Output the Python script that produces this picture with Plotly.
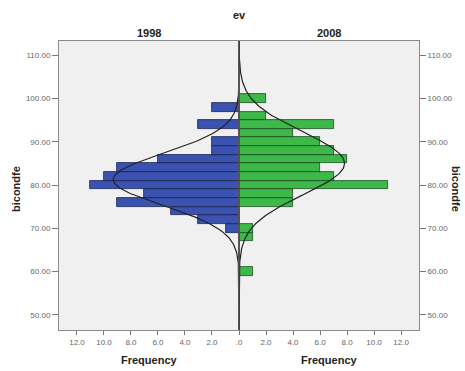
import numpy as np
import plotly.graph_objects as go
from plotly.subplots import make_subplots

# ---- data ----
bin_centers = [60, 62, 64, 66, 68, 70, 72, 74, 76, 78, 80, 82, 84, 86, 88, 90, 92, 94, 96, 98, 100]
freq_1998 =   [0,  0,  0,  0,  0,  1,  3,  5,  9,  7, 11, 10,  9,  6,  2,  2,  0,  3,  0,  2,  0]
freq_2008 =   [1,  0,  0,  0,  1,  1,  0,  0,  4,  4, 11,  7,  6,  8,  7,  6,  4,  7,  2,  0,  2]
bin_width = 2
mean_1998, sd_1998, n_1998 = 81.3, 6.0, 70
mean_2008, sd_2008, n_2008 = 85.0, 7.25, 71
y_ticks = [50, 60, 70, 80, 90, 100, 110]
y_ticklabels = ["50.00", "60.00", "70.00", "80.00", "90.00", "100.00", "110.00"]
x_ticks_left = [0, 2, 4, 6, 8, 10, 12]
x_ticklabels_left = [".0", "2.0", "4.0", "6.0", "8.0", "10.0", "12.0"]
x_ticks_right = [2, 4, 6, 8, 10, 12]
x_ticklabels_right = ["2.0", "4.0", "6.0", "8.0", "10.0", "12.0"]

W, H = 465, 371
ML, MR, MT, MB = 59, 46, 41, 41
plotH = H - MT - MB
plotW = W - ML - MR
YR = [46.5, 113.3]
XR = 13.33

FONT = "Liberation Sans, Arial, sans-serif"
BLUE = "#3a53b0"
GREEN = "#3db94a"

fig = make_subplots(rows=1, cols=2, shared_yaxes=False, horizontal_spacing=0)

fig.add_trace(go.Bar(y=bin_centers, x=freq_1998, orientation="h", width=bin_width,
                     marker=dict(color=BLUE, line=dict(color="#1c2450", width=0.8)),
                     showlegend=False), row=1, col=1)
fig.add_trace(go.Bar(y=bin_centers, x=freq_2008, orientation="h", width=bin_width,
                     marker=dict(color=GREEN, line=dict(color="#1d4a22", width=0.8)),
                     showlegend=False), row=1, col=2)

yy = np.linspace(YR[0], YR[1], 300)
def curve(m, s, n):
    return n * bin_width / (s * np.sqrt(2 * np.pi)) * np.exp(-0.5 * ((yy - m) / s) ** 2)

fig.add_trace(go.Scatter(x=curve(mean_1998, sd_1998, n_1998), y=yy, mode="lines",
                         line=dict(color="#222222", width=1.2), showlegend=False), row=1, col=1)
fig.add_trace(go.Scatter(x=curve(mean_2008, sd_2008, n_2008), y=yy, mode="lines",
                         line=dict(color="#222222", width=1.2), showlegend=False), row=1, col=2)

tickfont = dict(family=FONT, size=8, color="#666666")
axis_common = dict(showgrid=False, zeroline=False, showline=True, linecolor="#8a8a8a",
                   linewidth=1, ticks="outside", ticklen=4, tickcolor="#777777",
                   tickfont=tickfont, fixedrange=True)

fig.update_layout(
    width=W, height=H,
    margin=dict(l=ML, r=MR, t=MT, b=MB),
    paper_bgcolor="white", plot_bgcolor="#f0f0f0",
    bargap=0,
    xaxis=dict(domain=[0, 0.5], range=[XR, 0], tickvals=x_ticks_left,
               ticktext=x_ticklabels_left, mirror=True, **axis_common),
    xaxis2=dict(domain=[0.5, 1], range=[0, XR], tickvals=x_ticks_right,
                ticktext=x_ticklabels_right, mirror=True, **axis_common),
    yaxis=dict(range=YR, tickvals=y_ticks, ticktext=y_ticklabels, mirror=True,
               ticklen=6, **{k: v for k, v in axis_common.items() if k != "ticklen"}),
    yaxis2=dict(range=YR, tickvals=y_ticks, ticktext=y_ticklabels, side="right",
                anchor="x2", mirror=True, showticklabels=True, ticklen=6,
                **{k: v for k, v in axis_common.items() if k != "ticklen"}),
)

# dark centre line
fig.add_shape(type="line", xref="paper", yref="paper", x0=0.5, x1=0.5, y0=0, y1=1,
              line=dict(color="#444444", width=1.5))

def py(ypix):
    return (H - MB - ypix) / plotH

def px(xpix):
    return (xpix - ML) / plotW

bold = dict(family=FONT, size=11, color="#222222")
ann = [
    dict(text="<b>ev</b>", x=0.5, y=py(15)),
    dict(text="<b>1998</b>", x=0.25, y=py(33)),
    dict(text="<b>2008</b>", x=0.75, y=py(33)),
    dict(text="<b>Frequency</b>", x=0.25, y=py(360)),
    dict(text="<b>Frequency</b>", x=0.75, y=py(360)),
    dict(text="<b>bicondfe</b>", x=px(16), y=py(189), textangle=-90),
    dict(text="<b>bicondfe</b>", x=px(456), y=py(189), textangle=90),
]
for a in ann:
    fig.add_annotation(xref="paper", yref="paper", showarrow=False,
                       xanchor="center", yanchor="middle", font=bold, **a)

fig.write_html("out.html")
